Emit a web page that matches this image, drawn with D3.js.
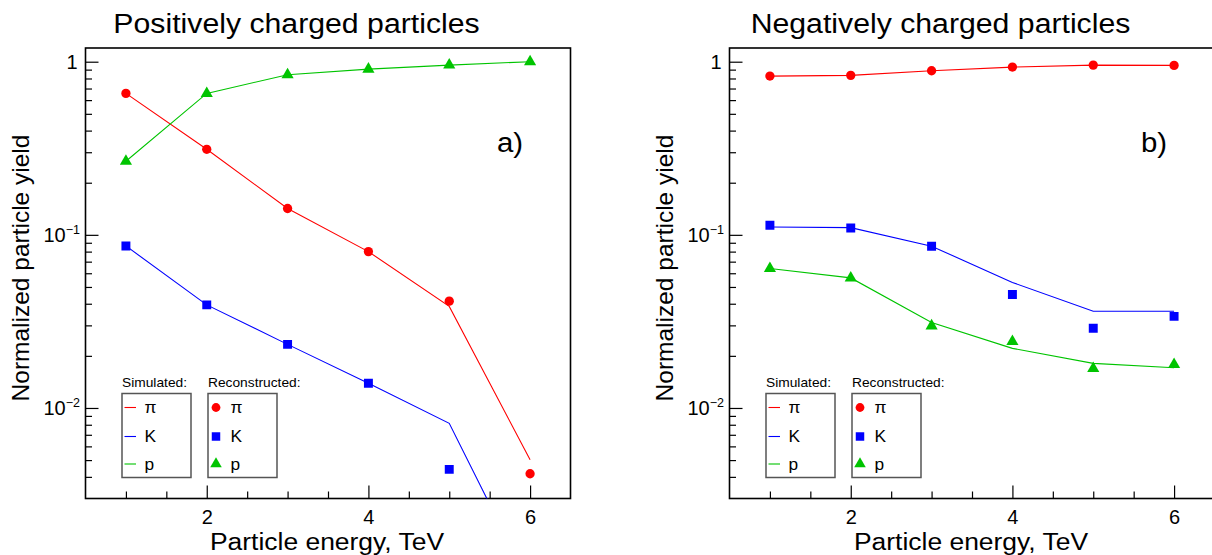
<!DOCTYPE html>
<html>
<head>
<meta charset="utf-8">
<script src="https://cdn.jsdelivr.net/npm/d3@7"></script>
<style>
  body { margin: 0; background: #fff; }
  text { font-family: "Liberation Sans", Arial, Helvetica, sans-serif; fill: #000; }
</style>
</head>
<body>
<div class="chart"></div>
<script>
// particle energy, TeV
const energy = [1, 2, 3, 4, 5, 6];

// a) positively charged particles
const posSimPi = [0.656, 0.312, 0.142, 0.080, 0.0386, 0.00502];
const posSimK  = [0.0863, 0.0394, 0.0233, 0.0139, 0.00815, 0.00095];
const posSimP  = [0.266, 0.656, 0.841, 0.906, 0.956, 1.0];
const posRecPi = [0.656, 0.312, 0.142, 0.080, 0.0414, 0.00417];
const posRecK  = [0.0863, 0.0394, 0.0233, 0.0139, 0.00442, null];
const posRecP  = [0.266, 0.656, 0.841, 0.906, 0.956, 1.0];

// b) negatively charged particles
const negSimPi = [0.826, 0.834, 0.887, 0.931, 0.956, 0.952];
const negSimK  = [0.111, 0.110, 0.086, 0.0531, 0.0362, 0.0362];
const negSimP  = [0.0639, 0.0564, 0.0312, 0.0221, 0.0181, 0.01706];
const negRecPi = [0.826, 0.834, 0.887, 0.931, 0.956, 0.952];
const negRecK  = [0.1136, 0.1096, 0.0860, 0.0452, 0.0289, 0.0338];
const negRecP  = [0.0639, 0.0564, 0.0298, 0.0242, 0.0169, 0.01785];

const species = ["π", "K", "p"];
const yMajor = [1, 0.1, 0.01];
const xMajor = [2, 4, 6];
const xMinor = [1, 1.5, 2.5, 3, 3.5, 4.5, 5, 5.5];

const colors = ["#ff0000", "#0000ff", "#00c400"];
const symbols = [d3.symbolCircle, d3.symbolSquare, d3.symbolTriangle];
const symSize = [68, 80, 64];

const W = 1212, H = 555;
const plotTop = 48, plotBottom = 498.5, plotW = 485;

const svg = d3.select(".chart")
  .append("svg")
  .attr("width", W)
  .attr("height", H);

// text in the original is a bit wider than Liberation Sans
function wideText(sel, x, y, sx) {
  return sel.append("text")
    .attr("transform", `translate(${x},${y}) scale(${sx},1)`);
}

const panels = [
  {x0: 85.5, title: "Positively charged particles", tag: "a)",
   sim: [posSimPi, posSimK, posSimP], rec: [posRecPi, posRecK, posRecP]},
  {x0: 729.5, title: "Negatively charged particles", tag: "b)",
   sim: [negSimPi, negSimK, negSimP], rec: [negRecPi, negRecK, negRecP]}
];

const yMinor = [];
[0.001, 0.01, 0.1].forEach(d => {
  for (let k = 2; k <= 9; k++) {
    const v = d * k;
    if (v > 0.003 && v < 1.2) yMinor.push(v);
  }
});

panels.forEach((p, i) => {
  const x = d3.scaleLinear().domain([0.5, 6.5]).range([p.x0, p.x0 + plotW]);
  const y = d3.scaleLog().domain([0.003, 1.2]).range([plotBottom, plotTop]);

  const g = svg.append("g");

  g.append("clipPath").attr("id", "clip" + i)
    .append("rect")
    .attr("x", p.x0).attr("y", plotTop)
    .attr("width", plotW).attr("height", plotBottom - plotTop);

  // title
  wideText(g, p.x0 + 211, 33, 1.12)
    .attr("text-anchor", "middle")
    .attr("font-size", 27)
    .text(p.title);

  // y axis
  const yAxis = d3.axisLeft(y)
    .tickValues(yMajor)
    .tickSize(-13)
    .tickPadding(7)
    .tickFormat(d => d === 1 ? "1" : "10");

  const ya = g.append("g")
    .attr("transform", `translate(${p.x0},0)`)
    .call(yAxis)
    .call(a => a.select(".domain").remove());
  ya.selectAll(".tick line").attr("stroke-width", 1.2);
  ya.selectAll(".tick text")
    .attr("font-size", 20)
    .attr("font-family", "Liberation Sans, Arial, sans-serif")
    .each(function(d) {
      const t = d3.select(this);
      if (d === 1) { t.attr("x", -8); return; }
      t.attr("x", -5.5);
      t.append("tspan")
        .attr("font-size", 12.5)
        .attr("dy", "-0.6em")
        .text("\u2212" + Math.round(-Math.log10(d)));
    });

  g.append("g")
    .attr("transform", `translate(${p.x0},0)`)
    .call(d3.axisLeft(y).tickValues(yMinor).tickSize(-6.5).tickFormat(""))
    .call(a => a.select(".domain").remove())
    .selectAll(".tick line").attr("stroke-width", 1.2);

  // x axis
  const xa = g.append("g")
    .attr("transform", `translate(0,${plotBottom})`)
    .call(d3.axisBottom(x).tickValues(xMajor).tickSize(-13).tickPadding(11).tickFormat(d3.format("d")))
    .call(a => a.select(".domain").remove());
  xa.selectAll(".tick line").attr("stroke-width", 1.2);
  xa.selectAll(".tick text")
    .attr("font-size", 20)
    .attr("font-family", "Liberation Sans, Arial, sans-serif");

  g.append("g")
    .attr("transform", `translate(0,${plotBottom})`)
    .call(d3.axisBottom(x).tickValues(xMinor).tickSize(-7).tickFormat(""))
    .call(a => a.select(".domain").remove())
    .selectAll(".tick line").attr("stroke-width", 1.2);

  // frame
  g.append("rect")
    .attr("x", p.x0).attr("y", plotTop)
    .attr("width", plotW).attr("height", plotBottom - plotTop)
    .attr("fill", "none")
    .attr("stroke", "#000")
    .attr("stroke-width", 1.6);

  // axis titles
  g.append("text")
    .attr("transform", `translate(${p.x0 - 57},268) rotate(-90)`)
    .attr("text-anchor", "middle")
    .attr("font-size", 24.5)
    .text("Normalized particle yield");

  wideText(g, p.x0 + plotW / 2 - 1, 550, 1.08)
    .attr("text-anchor", "middle")
    .attr("font-size", 24.5)
    .text("Particle energy, TeV");

  wideText(g, p.x0 + 411.5, 152, 1.05)
    .attr("font-size", 28)
    .text(p.tag);

  // simulated lines
  const line = d3.line()
    .defined(d => d[1] != null)
    .x(d => x(d[0]))
    .y(d => y(d[1]));

  const plot = g.append("g").attr("clip-path", `url(#clip${i})`);

  p.sim.forEach((s, k) => {
    plot.append("path")
      .datum(energy.map((e, j) => [e, s[j]]))
      .attr("fill", "none")
      .attr("stroke", colors[k])
      .attr("stroke-width", 1.1)
      .attr("d", line);
  });

  // reconstructed markers
  p.rec.forEach((s, k) => {
    plot.selectAll(null)
      .data(energy.map((e, j) => [e, s[j]]).filter(d => d[1] != null))
      .enter()
      .append("path")
      .attr("transform", d => `translate(${x(d[0])},${y(d[1])})`)
      .attr("fill", colors[k])
      .attr("d", d3.symbol().type(symbols[k]).size(symSize[k]));
  });

  // legends
  const lg = g.append("g").attr("transform", `translate(${p.x0},0)`);
  const rowY = [407.5, 436.5, 464];
  const boxes = [{dx: 36.5, label: "Simulated:"}, {dx: 122.5, label: "Reconstructed:"}];

  boxes.forEach((b, bi) => {
    wideText(lg, b.dx, 386.5, 1.06)
      .attr("font-size", 13)
      .text(b.label);

    lg.append("rect")
      .attr("x", b.dx).attr("y", 393.5)
      .attr("width", 69).attr("height", 84)
      .attr("fill", "#fff")
      .attr("stroke", "#555")
      .attr("stroke-width", 1.5);

    species.forEach((sp, k) => {
      if (bi === 0) {
        lg.append("line")
          .attr("x1", b.dx + 2.5).attr("x2", b.dx + 14)
          .attr("y1", rowY[k]).attr("y2", rowY[k])
          .attr("stroke", colors[k])
          .attr("stroke-width", 1.1);
      } else {
        lg.append("path")
          .attr("transform", `translate(${b.dx + 8},${rowY[k]})`)
          .attr("fill", colors[k])
          .attr("d", d3.symbol().type(symbols[k]).size(symSize[k] * 0.9));
      }
      wideText(lg, b.dx + 22.5, rowY[k] + 5.5, 1.05)
        .attr("font-size", 16.5)
        .text(sp);
    });
  });
});
</script>
</body>
</html>
